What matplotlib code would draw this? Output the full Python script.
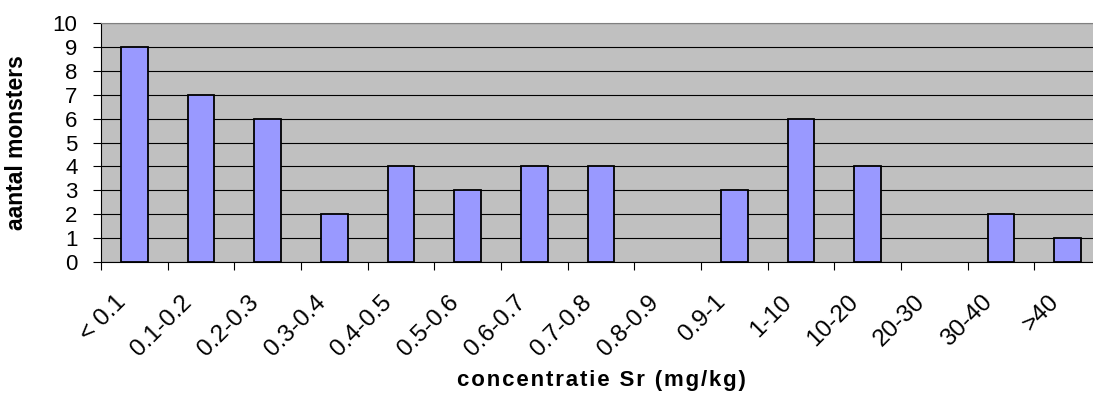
import numpy as np
import matplotlib
matplotlib.use("Agg")
import matplotlib.pyplot as plt
from matplotlib.transforms import ScaledTranslation

plt.rcParams['font.family'] = ['Liberation Sans', 'DejaVu Sans']

# Sr concentration classes and number of samples per class
klassen = ["< 0.1", "0.1-0.2", "0.2-0.3", "0.3-0.4", "0.4-0.5", "0.5-0.6",
           "0.6-0.7", "0.7-0.8", "0.8-0.9", "0.9-1", "1-10", "10-20",
           "20-30", "30-40", ">40"]
aantal = [9, 7, 6, 2, 4, 3, 4, 4, 0, 3, 6, 4, 0, 2, 1]

fig = plt.figure(figsize=(10.93, 3.96), dpi=100)
# plot area runs a little past the right edge of the figure
ax = fig.add_axes([101/1093, 134/396, 1000/1093, 239/396])

x = np.arange(len(klassen))
ax.set_facecolor("#C0C0C0")
ax.set_axisbelow(True)
ax.yaxis.grid(True, color="black", linewidth=0.8)
# empty classes get no outline
randen = [1.3 if v > 0 else 0 for v in aantal]
ax.bar(x, aantal, width=0.4, color="#9999FF", edgecolor="black", linewidth=randen, zorder=3)

ax.set_xlim(-0.5, len(klassen) - 0.5)
ax.set_ylim(0, 10)
ax.set_yticks(range(0, 11))
ax.tick_params(axis="y", direction="out", length=5.5, width=0.8, pad=11.5, labelsize=16)

# labels at the class centres, tick marks on the class boundaries
ax.set_xticks(x)
ax.set_xticklabels(klassen, rotation=45, ha="right", va="top", rotation_mode="anchor", fontsize=17.5)
ax.set_xticks(np.arange(-0.5, len(klassen)), minor=True)
ax.tick_params(axis="x", which="major", length=0, pad=21)
ax.tick_params(axis="x", which="minor", direction="out", length=5.5, width=0.8)
shift = ScaledTranslation(-0.20, 0, fig.dpi_scale_trans)
for lab in ax.get_xticklabels():
    lab.set_transform(lab.get_transform() + shift)

for side in ["top", "right"]:
    ax.spines[side].set_color("#808080")
ax.spines["left"].set_color("black")
ax.spines["bottom"].set_color("black")

ax.set_ylabel("aantal monsters", fontsize=16.5, fontweight="bold")
ax.yaxis.set_label_coords(-0.073, 0.5)
# spaced-out axis title (hair spaces between the letters)
xtitel = "concentratie Sr (mg/kg)"
ax.set_xlabel("\u200a".join(xtitel), fontsize=16, fontweight="bold")
ax.xaxis.set_label_coords(0.5, -0.453)

fig.savefig("out.png", dpi=100)
